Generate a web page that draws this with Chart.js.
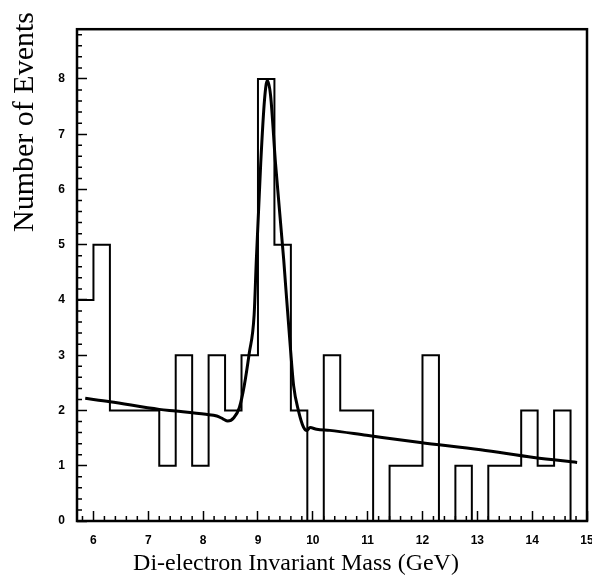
<!DOCTYPE html>
<html>
<head>
<meta charset="utf-8">
<script src="https://cdn.jsdelivr.net/npm/chart.js@4"></script>
<style>
  body { margin: 0; background: #fff; }
  canvas { display: block; }
</style>
</head>
<body>
<canvas id="chart0" width="592" height="579"></canvas>
<script>
// histogram: left bin edges (GeV) and counts, last edge closes the range
const binEdges = [5.7, 6.0, 6.3, 6.6, 6.9, 7.2, 7.5, 7.8, 8.1, 8.4, 8.7, 9.0, 9.3, 9.6, 9.9,
    10.2, 10.5, 10.8, 11.1, 11.4, 11.7, 12.0, 12.3, 12.6, 12.9, 13.2, 13.5, 13.8, 14.1, 14.4, 14.7, 15.0];
const binCounts = [4, 5, 2, 2, 2, 1, 3, 1, 3, 2, 3, 8, 5, 2, 0,
    3, 2, 2, 0, 1, 1, 3, 0, 1, 0, 1, 1, 2, 1, 2, 0, 0];

// fitted curve
const fitMass = [5.85, 6.3, 7.2, 7.5, 8.05, 8.25, 8.36, 8.45, 8.56, 8.66, 8.75, 8.84, 8.93, 8.97,
    9.05, 9.12, 9.17, 9.23, 9.32, 9.47, 9.5, 9.59, 9.65, 9.74, 9.83, 9.89, 9.95, 10.07, 10.31,
    10.98, 11.96, 13.06, 14.03, 14.82];
const fitValue = [2.22, 2.16, 2.02, 1.99, 1.93, 1.90, 1.85, 1.81, 1.87, 2.05, 2.45, 3.03, 3.73, 4.72,
    6.47, 7.63, 7.97, 7.7, 6.47, 4.72, 4.32, 3.15, 2.45, 1.99, 1.70, 1.64, 1.69, 1.66, 1.64,
    1.55, 1.42, 1.29, 1.15, 1.06];

const xTicks = [6, 7, 8, 9, 10, 11, 12, 13, 14, 15];
const yTicks = [0, 1, 2, 3, 4, 5, 6, 7, 8];

const xTitle = 'Di-electron Invariant Mass (GeV)';
const yTitle = 'Number of Events';

const ctx0 = document.getElementById('chart0').getContext('2d');

// frame, minor ticks and axis titles
const frame = {
    id: 'frame',
    afterDraw(chart) {
        const {ctx, chartArea: a, scales: {x, y}} = chart;
        ctx.save();
        ctx.strokeStyle = '#000';
        ctx.lineWidth = 2.5;
        ctx.strokeRect(a.left, a.top, a.right - a.left, a.bottom - a.top);

        ctx.lineWidth = 1.5;
        ctx.beginPath();
        for (let i = 29; i < 150; i++) {
            const v = i / 5;
            if (i % 5 === 0 || v <= x.min || v >= x.max) continue;
            const px = x.getPixelForValue(v);
            ctx.moveTo(px, a.bottom);
            ctx.lineTo(px, a.bottom - 5);
        }
        for (let i = 1; i < 45; i++) {
            if (i % 5 === 0) continue;
            const py = y.getPixelForValue(i / 5);
            ctx.moveTo(a.left, py);
            ctx.lineTo(a.left + 5, py);
        }
        ctx.stroke();

        ctx.fillStyle = '#000';
        ctx.font = '24px "Liberation Serif"';
        ctx.textAlign = 'center';
        ctx.textBaseline = 'alphabetic';
        ctx.fillText(xTitle, 296, 570);

        ctx.font = '30px "Liberation Serif"';
        ctx.translate(33, 12);
        ctx.rotate(-Math.PI / 2);
        ctx.textAlign = 'right';
        ctx.fillText(yTitle, 0, 0);
        ctx.restore();
    }
};

const chart0 = new Chart(ctx0, {
    type: 'line',
    data: {
        datasets: [
            {
                label: 'data',
                data: binEdges.map((e, i) => ({x: e, y: binCounts[i]})),
                stepped: 'before',
                borderColor: '#000',
                borderWidth: 2,
                pointRadius: 0,
            },
            {
                label: 'fit',
                data: fitMass.map((m, i) => ({x: m, y: fitValue[i]})),
                cubicInterpolationMode: 'monotone',
                borderColor: '#000',
                borderWidth: 3,
                pointRadius: 0,
            },
        ]
    },
    options: {
        responsive: false,
        animation: false,
        layout: {padding: {left: 0, right: 5, top: 10, bottom: 0}},
        plugins: {legend: {display: false}, tooltip: {enabled: false}},
        scales: {
            x: {
                type: 'linear',
                min: 5.7,
                max: 15,
                afterBuildTicks: s => { s.ticks = xTicks.map(v => ({value: v})); },
                afterFit: s => { s.height = 58; s.paddingLeft = 0; s.paddingRight = 0; },
                border: {display: false},
                grid: {drawOnChartArea: false, tickLength: -10, tickWidth: 1.5, tickColor: '#000'},
                ticks: {
                    padding: 22,
                    maxRotation: 0,
                    color: '#000',
                    font: {family: 'Liberation Sans', weight: 'bold', size: 12},
                },
            },
            y: {
                min: 0,
                max: 8.9,
                afterBuildTicks: s => { s.ticks = yTicks.map(v => ({value: v})); },
                afterFit: s => { s.width = 77; },
                border: {display: false},
                grid: {drawOnChartArea: false, tickLength: -10, tickWidth: 1.5, tickColor: '#000'},
                ticks: {
                    padding: 22,
                    color: '#000',
                    font: {family: 'Liberation Sans', weight: 'bold', size: 12},
                },
            }
        }
    },
    plugins: [frame]
});
</script>
</body>
</html>
